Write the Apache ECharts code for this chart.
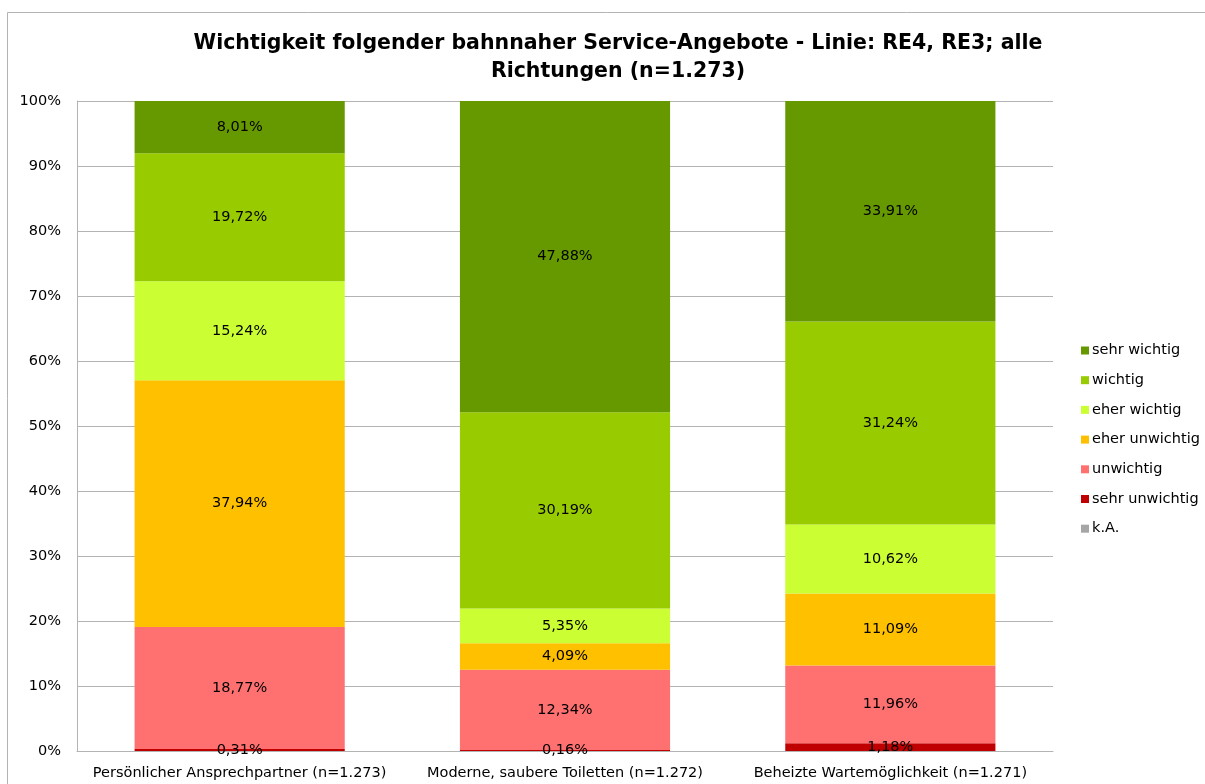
<!DOCTYPE html>
<html>
<head>
<meta charset="utf-8">
<script src="https://cdn.jsdelivr.net/npm/echarts@6/dist/echarts.min.js"></script>
<style>
  html, body { margin: 0; padding: 0; background: #fff; }
  #chart { width: 1205px; height: 784px; }
</style>
</head>
<body>
<div id="chart"></div>
<script>
// Categories and survey shares (percent)
const categories = [
  'Persönlicher Ansprechpartner (n=1.273)',
  'Moderne, saubere Toiletten (n=1.272)',
  'Beheizte Wartemöglichkeit (n=1.271)'
]
const kA = [0, 0, 0]
const sehrUnwichtig = [0.31, 0.16, 1.18]
const unwichtig = [18.77, 12.34, 11.96]
const eherUnwichtig = [37.94, 4.09, 11.09]
const eherWichtig = [15.24, 5.35, 10.62]
const wichtig = [19.72, 30.19, 31.24]
const sehrWichtig = [8.01, 47.88, 33.91]
const yTicks = [0, 10, 20, 30, 40, 50, 60, 70, 80, 90, 100]

const seriesDefs = [
  { name: 'k.A.', data: kA, color: '#a6a6a6' },
  { name: 'sehr unwichtig', data: sehrUnwichtig, color: '#c00000' },
  { name: 'unwichtig', data: unwichtig, color: '#ff7171' },
  { name: 'eher unwichtig', data: eherUnwichtig, color: '#ffc000' },
  { name: 'eher wichtig', data: eherWichtig, color: '#ccff33' },
  { name: 'wichtig', data: wichtig, color: '#99cc00' },
  { name: 'sehr wichtig', data: sehrWichtig, color: '#669900' }
]

const font = 'Tahoma, "DejaVu Sans", Verdana, sans-serif'
const chart = echarts.init(document.getElementById('chart'))

const option = {
  animation: false,
  textStyle: { fontFamily: font, color: '#000' },
  title: {
    text: 'Wichtigkeit folgender bahnnaher Service-Angebote - Linie: RE4, RE3; alle\nRichtungen (n=1.273)',
    left: 613,
    top: 25,
    textAlign: 'center',
    textStyle: { fontFamily: font, fontSize: 20.5, fontWeight: 'bold', lineHeight: 28, color: '#000' }
  },
  graphic: [{
    type: 'rect',
    shape: { x: 7.5, y: 12.5, width: 1300, height: 900 },
    style: { fill: 'none', stroke: '#b3b3b3', lineWidth: 1 },
    silent: true
  }],
  legend: {
    orient: 'vertical',
    left: 1076,
    top: 338,
    itemWidth: 8,
    itemHeight: 8,
    itemGap: 14.7,
    icon: 'rect',
    data: seriesDefs.slice().reverse().map(s => s.name),
    textStyle: { fontFamily: font, fontSize: 14.5, color: '#000', padding: [0, 0, 0, -2] }
  },
  grid: { left: 77, right: 152, top: 101, bottom: 33, containLabel: false },
  xAxis: {
    type: 'category',
    data: categories,
    axisTick: { show: false },
    axisLine: { lineStyle: { color: '#b3b3b3' } },
    axisLabel: { fontFamily: font, fontSize: 14.5, color: '#000', margin: 15, interval: 0 }
  },
  yAxis: {
    type: 'value',
    min: 0,
    max: 100,
    interval: 10,
    axisLine: { show: true, lineStyle: { color: '#b3b3b3' } },
    axisTick: { show: false },
    splitLine: { lineStyle: { color: '#b3b3b3' } },
    axisLabel: {
      fontFamily: font, fontSize: 14.5, color: '#000', margin: 16,
      formatter: v => yTicks.includes(v) ? v + '%' : ''
    }
  },
  series: seriesDefs.map(s => ({
    name: s.name,
    type: 'bar',
    stack: 'total',
    barWidth: '64.6%',
    data: s.data,
    itemStyle: { color: s.color },
    label: {
      show: true,
      position: 'inside',
      fontFamily: font,
      fontSize: 14.5,
      color: '#000',
      formatter: p => p.value > 0 ? p.value.toFixed(2).replace('.', ',') + '%' : ''
    }
  }))
}

chart.setOption(option)
</script>
</body>
</html>
